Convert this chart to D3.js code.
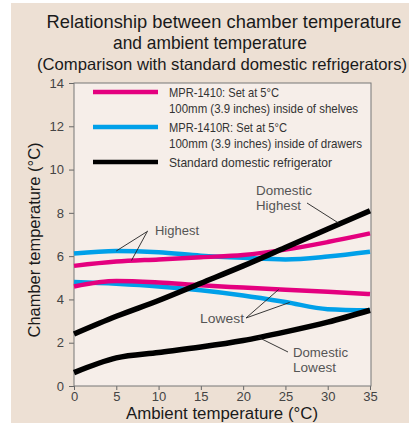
<!DOCTYPE html>
<html>
<head>
<meta charset="utf-8">
<script src="https://cdn.jsdelivr.net/npm/d3@7"></script>
<style>
  body { margin: 0; background: #fff; }
  svg { display: block; }
  text { font-family: "Liberation Sans Narrow", "Arial Narrow", "Liberation Sans", sans-serif; }
</style>
</head>
<body>
<div id="chart"></div>
<script>
var width = 409
var height = 425

// ambient temperature (x) and chamber temperature series
var ambient = [0, 5, 10, 15, 20, 25, 30, 35]
var pinkHigh = [5.55, 5.75, 5.85, 5.95, 6.05, 6.3, 6.65, 7.05]
var pinkLow = [4.6, 4.85, 4.78, 4.65, 4.55, 4.45, 4.35, 4.25]
var blueHigh = [6.12, 6.24, 6.18, 6.02, 5.92, 5.85, 5.98, 6.2]
var blueLow = [4.8, 4.72, 4.6, 4.42, 4.18, 3.88, 3.55, 3.5]
var domHigh = [2.4, 3.22, 3.95, 4.75, 5.55, 6.4, 7.25, 8.1]
var domLow = [0.62, 1.3, 1.55, 1.8, 2.1, 2.5, 2.95, 3.5]

var xTicks = [0, 5, 10, 15, 20, 25, 30, 35]
var yTicks = [0, 2, 4, 6, 8, 10, 12, 14]

var legendItems = [
  {color: "#e4007f", lines: ["MPR-1410: Set at 5\u00b0C", "100mm (3.9 inches) inside of shelves"], w: [110, 189]},
  {color: "#00a0e9", lines: ["MPR-1410R: Set at 5\u00b0C", "100mm (3.9 inches) inside of drawers"], w: [118, 193]},
  {color: "#000000", lines: ["Standard domestic refrigerator"], w: [163]}
]

var plotL = 74, plotR = 371, plotT = 83, plotB = 386

var x = d3.scaleLinear().domain([0, 35]).range([plotL, plotR - 1])
var y = d3.scaleLinear().domain([0, 14]).range([plotB, plotT])

var svg = d3.select("#chart").append("svg")
  .attr("width", width)
  .attr("height", height)

svg.append("rect")
  .attr("x", 11).attr("y", 3)
  .attr("width", width - 11).attr("height", 420)
  .attr("fill", "#ede0d4")

svg.append("rect")
  .attr("x", plotL).attr("y", plotT)
  .attr("width", plotR - plotL).attr("height", plotB - plotT)
  .attr("fill", "#f6eee9")

// title
var title = [
  {t: "Relationship between chamber temperature", x: 224, y: 28, s: 19, w: 355},
  {t: "and ambient temperature", x: 210, y: 49, s: 19, w: 194},
  {t: "(Comparison with standard domestic refrigerators)", x: 222, y: 70, s: 16.5, w: 370}
]
svg.selectAll(".title")
  .data(title)
  .enter()
  .append("text")
  .attr("x", function (d) { return d.x })
  .attr("y", function (d) { return d.y })
  .attr("text-anchor", "middle")
  .attr("font-size", function (d) { return d.s })
  .attr("textLength", function (d) { return d.w })
  .attr("lengthAdjust", "spacingAndGlyphs")
  .attr("fill", "#1a1a1a")
  .text(function (d) { return d.t })

// axes
var xAxis = d3.axisBottom(x).tickValues(xTicks).tickSize(4).tickPadding(2)
var yAxis = d3.axisLeft(y).tickValues(yTicks).tickSize(5).tickPadding(5)

var gx = svg.append("g").attr("transform", "translate(0," + plotB + ")").call(xAxis)
var gy = svg.append("g").attr("transform", "translate(" + plotL + ",0)").call(yAxis)
;[gx, gy].forEach(function (g) {
  g.select(".domain").remove()
  g.selectAll("line").attr("stroke", "#666")
  g.selectAll("text")
    .attr("font-size", 13)
    .attr("fill", "#444")
    .style("font-family", "\"Liberation Sans Narrow\", \"Arial Narrow\", sans-serif")
})

svg.append("rect")
  .attr("x", plotL).attr("y", plotT)
  .attr("width", plotR - plotL).attr("height", plotB - plotT)
  .attr("fill", "none")
  .attr("stroke", "#777")
  .attr("stroke-width", 1)

svg.append("text")
  .attr("x", 222).attr("y", 419)
  .attr("text-anchor", "middle")
  .attr("font-size", 16)
  .attr("textLength", 192)
  .attr("lengthAdjust", "spacingAndGlyphs")
  .attr("fill", "#1a1a1a")
  .text("Ambient temperature (\u00b0C)")

svg.append("text")
  .attr("transform", "translate(40,240) rotate(-90)")
  .attr("text-anchor", "middle")
  .attr("font-size", 16.5)
  .attr("textLength", 195)
  .attr("lengthAdjust", "spacingAndGlyphs")
  .attr("fill", "#1a1a1a")
  .text("Chamber temperature (\u00b0C)")

// series lines
var line = d3.line()
  .x(function (d, i) { return x(ambient[i]) })
  .y(function (d) { return y(d) })
  .curve(d3.curveMonotoneX)

var series = [
  {v: blueLow, c: "#00a0e9", w: 4.5},
  {v: blueHigh, c: "#00a0e9", w: 4.5},
  {v: pinkLow, c: "#e4007f", w: 4.5},
  {v: pinkHigh, c: "#e4007f", w: 4.5},
  {v: domLow, c: "#000", w: 5.5},
  {v: domHigh, c: "#000", w: 5.5}
]
svg.append("g")
  .selectAll("path")
  .data(series)
  .enter()
  .append("path")
  .attr("d", function (d) { return line(d.v) })
  .attr("fill", "none")
  .attr("stroke", function (d) { return d.c })
  .attr("stroke-width", function (d) { return d.w })

// legend
var lg = svg.append("g")
var legendY = [92, 127, 162]
legendItems.forEach(function (d, i) {
  lg.append("line")
    .attr("x1", 93).attr("x2", 158)
    .attr("y1", legendY[i]).attr("y2", legendY[i])
    .attr("stroke", d.color)
    .attr("stroke-width", 4.5)
  d.lines.forEach(function (t, j) {
    lg.append("text")
      .attr("x", 169)
      .attr("y", legendY[i] + 5 + j * 16)
      .attr("font-size", 13.5)
      .attr("textLength", d.w[j])
      .attr("lengthAdjust", "spacingAndGlyphs")
      .attr("fill", "#333")
      .text(t)
  })
})

// annotations
var notes = [
  {t: ["Highest"], w: [44], x: 155, y: 235},
  {t: ["Domestic", "Highest"], w: [56, 45], x: 256, y: 195},
  {t: ["Lowest"], w: [44], x: 200, y: 323},
  {t: ["Domestic", "Lowest"], w: [55, 43], x: 293, y: 357}
]
notes.forEach(function (n) {
  n.t.forEach(function (t, j) {
    svg.append("text")
      .attr("x", n.x).attr("y", n.y + j * 15)
      .attr("font-size", 13.5)
      .attr("textLength", n.w[j])
      .attr("lengthAdjust", "spacingAndGlyphs")
      .attr("fill", "#555")
      .text(t)
  })
})

var leaders = [
  [[148, 231], [x(5), y(6.24)]],
  [[147, 232], [x(6.8), y(5.8)]],
  [[307, 203], [x(31.4), y(7.5)]],
  [[246, 318], [x(24.2), y(4.46)]],
  [[246, 318], [x(25.5), y(3.86)]],
  [[288, 352], [x(21.8), y(2.25)]]
]
svg.append("g")
  .selectAll("line")
  .data(leaders)
  .enter()
  .append("line")
  .attr("x1", function (d) { return d[0][0] })
  .attr("y1", function (d) { return d[0][1] })
  .attr("x2", function (d) { return d[1][0] })
  .attr("y2", function (d) { return d[1][1] })
  .attr("stroke", "#222")
  .attr("stroke-width", 0.9)
</script>
</body>
</html>
